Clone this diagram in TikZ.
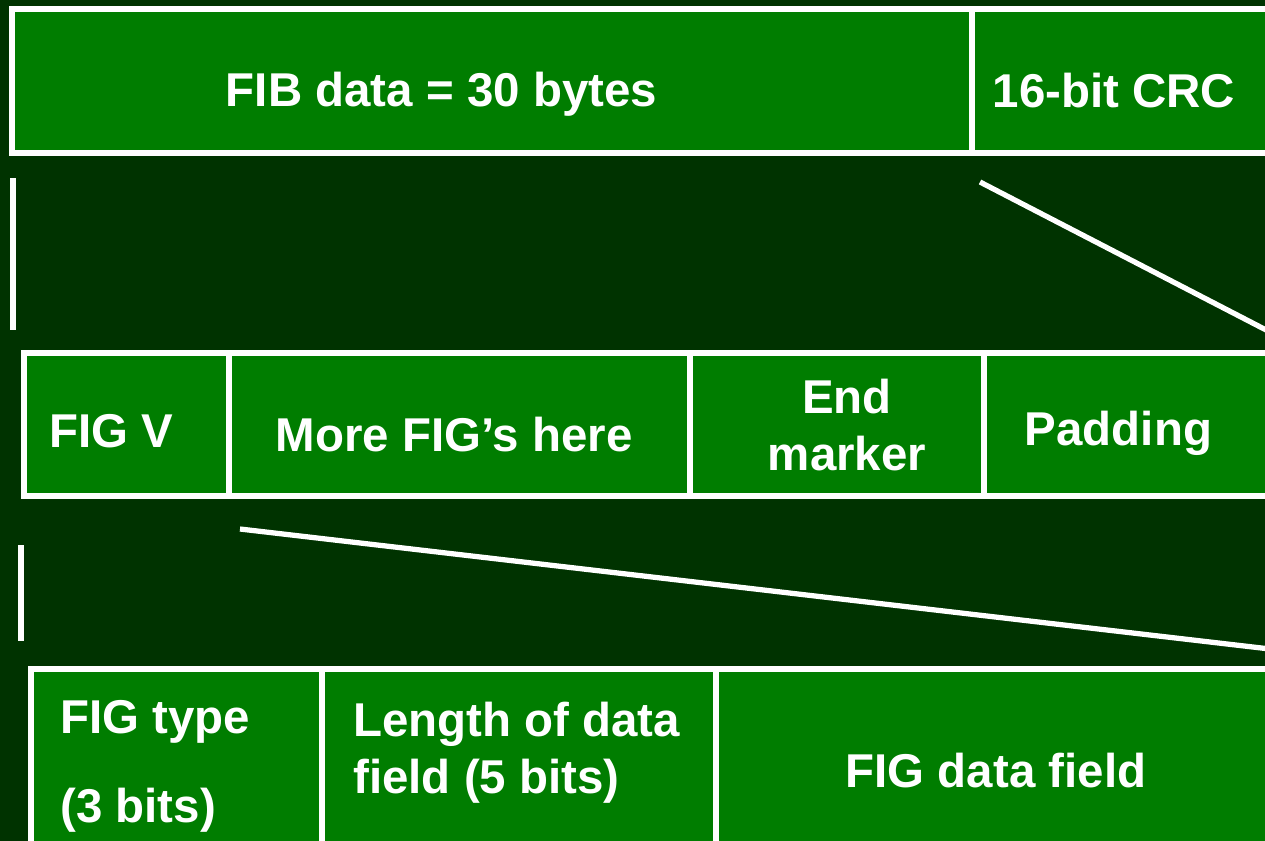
\documentclass[tikz,border=0pt]{standalone}
\usepackage{fontspec}
\setmainfont{Liberation Sans}
\usetikzlibrary{positioning}
\definecolor{darkbg}{RGB}{0,51,0}
\definecolor{fieldgreen}{RGB}{0,125,0}

\begin{document}
\begin{tikzpicture}[field/.style={draw=white, line width=3.2pt, fill=fieldgreen, inner sep=0pt, outer sep=0pt, anchor=north west}, txt/.style={text=white, inner sep=0pt, font=\fontsize{27}{32.4}\selectfont\bfseries}, zoomline/.style={draw=white, line width=3pt}]
\useasboundingbox (0,0) rectangle (25.3,-16.82); \fill[darkbg] (0,0) rectangle (25.3,-16.82); \clip (0,0) rectangle (25.3,-16.82);
% FIB
\node[field, minimum width=19.2cm, minimum height=2.88cm] (fib) at (0.24,-0.18) {}; \node[field, minimum width=7cm, minimum height=2.88cm] (crc) at (fib.north east) {};
\node[txt, anchor=base] (fibT) at (8.83,-2.12) {FIB data = 30 bytes}; \node[txt, anchor=base] (crcT) at (22.28,-2.14) {16-bit CRC};
% FIGs inside the FIB
\node[field, minimum width=4.1cm, minimum height=2.86cm] (figv) at (0.48,-7.06) {}; \node[field, minimum width=9.22cm, minimum height=2.86cm] (more) at (figv.north east) {}; \node[field, minimum width=5.88cm, minimum height=2.86cm] (endm) at (more.north east) {}; \node[field, minimum width=7cm, minimum height=2.86cm] (pad) at (endm.north east) {};
\node[txt, anchor=base] (figvT) at (2.23,-8.94) {FIG V}; \node[txt, anchor=base] (moreT) at (9.08,-9.02) {More FIG’s here}; \node[txt, anchor=base, align=center] (endT) at (16.94,-9.4) {End\\marker}; \node[txt, anchor=base] (padT) at (22.37,-8.9) {Padding};
% one FIG
\node[field, minimum width=5.82cm, minimum height=5cm] (ftype) at (0.62,-13.38) {}; \node[field, minimum width=7.88cm, minimum height=5cm] (flen) at (ftype.north east) {}; \node[field, minimum width=11.5cm, minimum height=5cm] (fdata) at (flen.north east) {};
\node[txt, anchor=base west, align=left] (typeT) at (1.2,-16.44) {FIG type\\[18pt](3 bits)}; \node[txt, anchor=base west, align=left] (lenT) at (7.06,-15.86) {Length of data\\field (5 bits)}; \node[txt, anchor=base] (dataT) at (19.92,-15.74) {FIG data field};
% zoom lines
\coordinate (tickA) at (0.26,-3.56); \coordinate (tickB) at (0.26,-6.6); \coordinate (crcA) at (19.6,-3.64); \coordinate (crcB) at (25.4,-6.64);
\coordinate (tickC) at (0.42,-10.9); \coordinate (tickD) at (0.42,-12.82); \coordinate (figA) at (4.8,-10.58); \coordinate (figB) at (25.4,-12.98);
\draw[zoomline] (tickA) -- (tickB); \draw[zoomline] (crcA) -- (crcB); \draw[zoomline] (tickC) -- (tickD); \draw[zoomline] (figA) -- (figB);
\end{tikzpicture}
\end{document}
